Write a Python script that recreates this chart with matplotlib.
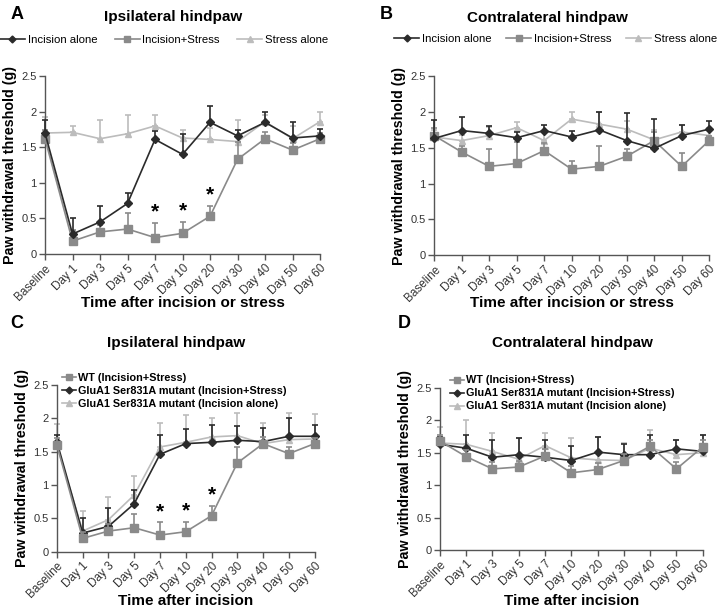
import numpy as np
import matplotlib.pyplot as plt
from matplotlib.lines import Line2D

plt.rcParams['font.family'] = ['Liberation Sans', 'DejaVu Sans']

days = ['Baseline', 'Day 1', 'Day 3', 'Day 5', 'Day 7', 'Day 10',
        'Day 20', 'Day 30', 'Day 40', 'Day 50', 'Day 60']

# panel A - ipsilateral, incision / stress
a_incision = [1.70, 0.28, 0.45, 0.71, 1.61, 1.40, 1.85, 1.66, 1.85, 1.63, 1.66]
a_incision_err = [0.19, 0.22, 0.22, 0.14, 0.12, 0.28, 0.23, 0.08, 0.14, 0.23, 0.10]
a_inc_stress = [1.62, 0.18, 0.31, 0.35, 0.23, 0.29, 0.53, 1.33, 1.62, 1.46, 1.62]
a_inc_stress_err = [0.12, 0.15, 0.10, 0.22, 0.21, 0.16, 0.15, 0.25, 0.10, 0.10, 0.08]
a_stress = [1.70, 1.71, 1.62, 1.69, 1.80, 1.63, 1.61, 1.58, 1.86, 1.62, 1.86]
a_stress_err = [0.23, 0.09, 0.27, 0.26, 0.15, 0.11, 0.16, 0.31, 0.10, 0.18, 0.13]

# panel B - contralateral, incision / stress
b_incision = [1.63, 1.74, 1.70, 1.64, 1.74, 1.65, 1.75, 1.60, 1.49, 1.67, 1.76]
b_incision_err = [0.26, 0.19, 0.11, 0.08, 0.08, 0.08, 0.25, 0.38, 0.41, 0.15, 0.11]
b_inc_stress = [1.67, 1.44, 1.24, 1.28, 1.46, 1.20, 1.24, 1.38, 1.60, 1.24, 1.60]
b_inc_stress_err = [0.10, 0.08, 0.24, 0.30, 0.10, 0.11, 0.28, 0.10, 0.12, 0.18, 0.06]
b_stress = [1.65, 1.60, 1.67, 1.78, 1.60, 1.90, 1.83, 1.76, 1.61, 1.72, 1.67]
b_stress_err = [0.10, 0.08, 0.12, 0.08, 0.14, 0.10, 0.17, 0.12, 0.14, 0.10, 0.10]

# panel C - ipsilateral, WT vs GluA1 mutant
c_wt = [1.60, 0.20, 0.31, 0.36, 0.25, 0.30, 0.54, 1.33, 1.62, 1.47, 1.62]
c_wt_err = [0.10, 0.10, 0.10, 0.21, 0.19, 0.15, 0.15, 0.24, 0.10, 0.10, 0.08]
c_mut_is = [1.65, 0.28, 0.38, 0.72, 1.46, 1.62, 1.64, 1.67, 1.65, 1.73, 1.73]
c_mut_is_err = [0.10, 0.22, 0.27, 0.20, 0.29, 0.22, 0.26, 0.22, 0.21, 0.27, 0.17]
c_mut_inc = [1.60, 0.31, 0.48, 0.85, 1.57, 1.64, 1.72, 1.74, 1.62, 1.68, 1.69]
c_mut_inc_err = [0.32, 0.30, 0.34, 0.28, 0.36, 0.41, 0.28, 0.34, 0.31, 0.40, 0.38]

# panel D - contralateral, WT vs GluA1 mutant
d_wt = [1.68, 1.44, 1.25, 1.28, 1.45, 1.19, 1.24, 1.38, 1.60, 1.25, 1.59]
d_wt_err = [0.10, 0.10, 0.10, 0.10, 0.10, 0.10, 0.10, 0.10, 0.10, 0.10, 0.10]
d_mut_is = [1.63, 1.57, 1.43, 1.47, 1.43, 1.38, 1.51, 1.47, 1.47, 1.56, 1.52]
d_mut_is_err = [0.12, 0.21, 0.27, 0.26, 0.27, 0.22, 0.23, 0.16, 0.31, 0.14, 0.26]
d_mut_inc = [1.65, 1.63, 1.52, 1.40, 1.61, 1.42, 1.39, 1.38, 1.57, 1.47, 1.50]
d_mut_inc_err = [0.24, 0.37, 0.28, 0.33, 0.20, 0.31, 0.36, 0.27, 0.28, 0.23, 0.28]

# significance marks (index into days) for the incision+stress / WT series
star_idx = [4, 5, 6]

DARK = '#2b2b2b'
MID = '#8a8a8a'
LIGHT = '#bcbcbc'


def draw_series(ax, y, err, color, marker, ms, z):
    x = np.arange(len(y))
    ax.errorbar(x, y, yerr=[np.zeros(len(err)), err], color=color, ecolor=color,
                marker=marker, markersize=ms, lw=1.2, elinewidth=1.2, capsize=2.5,
                capthick=1.2, zorder=z, clip_on=False)


def handle(color, marker, ms):
    return Line2D([], [], color=color, marker=marker, markersize=ms, lw=1.2)


def style_axes(ax, xlabel, label_y):
    ax.set_xlim(0, len(days) - 1)
    ax.set_ylim(0, 2.5)
    ax.set_yticks([0, 0.5, 1, 1.5, 2, 2.5])
    ax.set_yticklabels(['0', '0.5', '1', '1.5', '2', '2.5'], fontsize=8, color='#333333')
    ax.set_xticks(np.arange(len(days)))
    ax.set_xticklabels(days, rotation=45, ha='right', rotation_mode='anchor',
                       fontsize=8.5, color='#333333')
    for s in ['top', 'right']:
        ax.spines[s].set_visible(False)
    for s in ['left', 'bottom']:
        ax.spines[s].set_color('#555555')
        ax.spines[s].set_linewidth(1.0)
    ax.tick_params(axis='both', color='#555555', length=4, width=1.0, pad=2)
    ax.set_ylabel('Paw withdrawal threshold (g)', fontsize=10.3, fontweight='bold', labelpad=3)
    ax.set_xlabel(xlabel, fontsize=11, fontweight='bold', va='center')
    ax.xaxis.set_label_coords(0.5, label_y)


def add_stars(ax, y, err):
    for i in star_idx:
        ax.text(i, y[i] + err[i] + 0.02, '*', ha='center', va='bottom',
                fontsize=15, fontweight='bold', color='black')


fig = plt.figure(figsize=(7.2, 6.09), dpi=100)

axA = fig.add_axes([0.0625, 0.583, 0.382, 0.292])
axB = fig.add_axes([0.603, 0.581, 0.382, 0.294])
axC = fig.add_axes([0.079, 0.094, 0.358, 0.274])
axD = fig.add_axes([0.611, 0.097, 0.365, 0.266])

# A
draw_series(axA, a_stress, a_stress_err, LIGHT, '^', 5, 2)
draw_series(axA, a_inc_stress, a_inc_stress_err, MID, 's', 6, 3)
draw_series(axA, a_incision, a_incision_err, DARK, 'D', 4, 4)
add_stars(axA, a_inc_stress, a_inc_stress_err)
style_axes(axA, 'Time after incision or stress', -0.275)

# B
draw_series(axB, b_stress, b_stress_err, LIGHT, '^', 5, 2)
draw_series(axB, b_inc_stress, b_inc_stress_err, MID, 's', 6, 3)
draw_series(axB, b_incision, b_incision_err, DARK, 'D', 4, 4)
style_axes(axB, 'Time after incision or stress', -0.268)

# C
draw_series(axC, c_mut_inc, c_mut_inc_err, LIGHT, '^', 5, 2)
draw_series(axC, c_mut_is, c_mut_is_err, DARK, 'D', 4, 3)
draw_series(axC, c_wt, c_wt_err, MID, 's', 6, 4)
add_stars(axC, c_wt, c_wt_err)
style_axes(axC, 'Time after incision', -0.293)

# D
draw_series(axD, d_mut_inc, d_mut_inc_err, LIGHT, '^', 5, 2)
draw_series(axD, d_mut_is, d_mut_is_err, DARK, 'D', 4, 3)
draw_series(axD, d_wt, d_wt_err, MID, 's', 6, 4)
style_axes(axD, 'Time after incision', -0.315)

# legends
top_labels = ['Incision alone', 'Incision+Stress', 'Stress alone']
top_handles = [handle(DARK, 'D', 3.5), handle(MID, 's', 5), handle(LIGHT, '^', 4.5)]
for ax, anchor, gap in [(axA, (-0.164, 1.205), 1.5), (axB, (-0.145, 1.205), 1.25)]:
    ax.legend(top_handles, top_labels, loc='center left',
              bbox_to_anchor=anchor, ncol=3, frameon=False, fontsize=8.2,
              handlelength=2.2, handletextpad=0.25, columnspacing=gap,
              borderaxespad=0, borderpad=0)

low_labels = ['WT (Incision+Stress)', 'GluA1 Ser831A mutant (Incision+Stress)',
              'GluA1 Ser831A mutant (Incision alone)']
low_handles = [handle(MID, 's', 5), handle(DARK, 'D', 3.5), handle(LIGHT, '^', 4.5)]
for ax, anchor in [(axC, (0.02, 1.07)), (axD, (0.038, 1.078))]:
    ax.legend(low_handles, low_labels, loc='upper left',
              bbox_to_anchor=anchor, frameon=False,
              handlelength=1.3, handletextpad=0.2, labelspacing=0.28,
              borderaxespad=0, borderpad=0,
              prop={'weight': 'bold', 'size': 7.8})

# panel letters and titles
fig.text(0.014, 0.99, 'A', fontsize=13, fontweight='bold', va='top')
fig.text(0.528, 0.99, 'B', fontsize=13, fontweight='bold', va='top')
fig.text(0.014, 0.482, 'C', fontsize=13, fontweight='bold', va='top')
fig.text(0.553, 0.482, 'D', fontsize=13, fontweight='bold', va='top')
fig.text(0.24, 0.972, 'Ipsilateral hindpaw', fontsize=11, fontweight='bold', ha='center', va='center')
fig.text(0.76, 0.97, 'Contralateral hindpaw', fontsize=11, fontweight='bold', ha='center', va='center')
fig.text(0.245, 0.437, 'Ipsilateral hindpaw', fontsize=11, fontweight='bold', ha='center', va='center')
fig.text(0.795, 0.437, 'Contralateral hindpaw', fontsize=11, fontweight='bold', ha='center', va='center')

fig.savefig('out.png', dpi=100)
